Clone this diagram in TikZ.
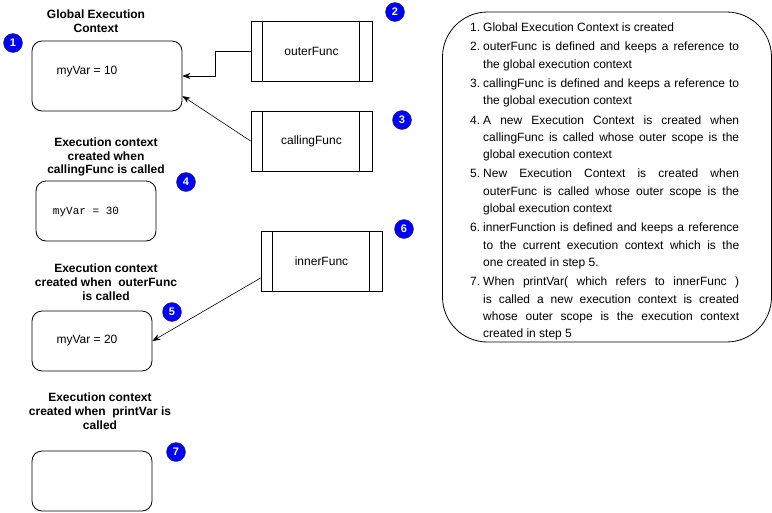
\documentclass[tikz,border=0pt]{standalone}
\usepackage{fontspec}
\setmainfont{Liberation Sans}
\setmonofont{Liberation Mono}
\usepackage{enumitem}
\usepackage{tikz}
\usetikzlibrary{arrows.meta}

\tikzset{
  ctxbox/.style={draw, line width=0.8pt, rounded corners=10pt, minimum width=120pt, minimum height=60pt},
  funcbox/.style={draw, line width=0.8pt, minimum width=121pt, minimum height=60pt, font=\fontsize{12}{14}\selectfont},
  stepnum/.style={circle, draw=black!80, fill={rgb,255:red,0;green,0;blue,255}, text=white, inner sep=0pt, minimum size=19pt, font=\fontsize{11}{12}\selectfont\bfseries},
  title/.style={align=center, inner sep=0.75pt, font=\fontsize{12}{13.8}\selectfont\bfseries},
  vartext/.style={inner sep=0.75pt, font=\fontsize{12}{14}\selectfont},
  arr/.style={-{Stealth[length=8pt,width=6pt]}, line width=0.6pt},
}

\begin{document}
\begin{tikzpicture}[x=1pt,y=-1pt]
    \useasboundingbox (0,0) rectangle (772,512);

    %Global execution context
    \node[stepnum] (n1) at (13,43) {1};
    \node[title] (globaltitle) at (96,21.5) {Global Execution\\Context};
    \node[ctxbox, minimum width=150pt, minimum height=70pt] (global) at (107,76) {};
    \node[vartext] (globalvar) at (87,72) {myVar = 10};

    %outerFunc
    \node[stepnum] (n2) at (395,12) {2};
    \node[funcbox] (outer) at (311.5,51) {outerFunc};
    \draw[line width=0.8pt] ([xshift=12pt]outer.north west) -- ([xshift=12pt]outer.south west);
    \draw[line width=0.8pt] ([xshift=-13pt]outer.north east) -- ([xshift=-13pt]outer.south east);

    %callingFunc
    \node[stepnum] (n3) at (402,120) {3};
    \node[funcbox] (calling) at (311.5,141) {callingFunc};
    \draw[line width=0.8pt] ([xshift=12pt]calling.north west) -- ([xshift=12pt]calling.south west);
    \draw[line width=0.8pt] ([xshift=-13pt]calling.north east) -- ([xshift=-13pt]calling.south east);

    %arrows to global
    \draw[arr] (outer.west) -- ([xshift=-35pt]outer.west) |- (global.east);
    \draw[arr] (calling.west) -- ([yshift=-20pt]global.east);

    %callingFunc context
    \node[title] (calltitle) at (106,157) {Execution context\\created when\\callingFunc is called};
    \node[ctxbox] (callctx) at (96,211) {};
    \node[vartext, font=\fontsize{11}{13}\ttfamily] (callvar) at (86,212) {myVar = 30};
    \node[stepnum] (n4) at (186,182) {4};

    %innerFunc
    \node[stepnum] (n6) at (404,229) {6};
    \node[funcbox] (inner) at (321.5,261) {innerFunc};
    \draw[line width=0.8pt] ([xshift=12pt]inner.north west) -- ([xshift=12pt]inner.south west);
    \draw[line width=0.8pt] ([xshift=-13pt]inner.north east) -- ([xshift=-13pt]inner.south east);

    %outerFunc context
    \node[title] (outertitle) at (106,282) {Execution context\\created when\ \ outerFunc\\is called};
    \node[ctxbox] (outerctx) at (92,341) {};
    \node[vartext] (outervar) at (87,341) {myVar = 20};
    \node[stepnum] (n5) at (172,312) {5};
    \draw[arr] ([yshift=-17pt]inner.west) -- (outerctx.east);

    %printVar context
    \node[title] (printtitle) at (100,411.5) {Execution context\\created when\ \ printVar is\\called};
    \node[ctxbox] (printctx) at (92,481) {};
    \node[stepnum] (n7) at (176,452) {7};

    %steps
    \node[draw, line width=0.8pt, rounded corners=45pt, minimum width=329pt, minimum height=330pt] (stepbox) at (607,177) {};
    \node[anchor=north west, inner sep=0pt, text width=267pt, align=justify, font=\fontsize{12}{17.3}\selectfont] (steps) at (472,14) {%
      \hyphenpenalty=10000 \exhyphenpenalty=10000 \tolerance=10000
      \spaceskip=\fontdimen2\font plus 3\fontdimen2\font minus 0pt
      \begin{enumerate}[leftmargin=11pt, labelsep=3pt, itemsep=2pt, topsep=0pt, parsep=0pt, label=\arabic*.]
        \item Global Execution Context is created
        \item outerFunc is defined and keeps a reference to the global execution context
        \item callingFunc is defined and keeps a reference to the global execution context
        \item A new Execution Context is created when callingFunc is called whose outer scope is the global execution context
        \item New Execution Context is created when outerFunc is called whose outer scope is the global execution context
        \item innerFunction is defined and keeps a reference to the current execution context which is the one created in step 5.
        \item \spaceskip=\fontdimen2\font plus 3\fontdimen2\font minus 0.35\fontdimen2\font
          When printVar( which refers to innerFunc ) is called a new execution context is created\linebreak{} whose outer scope is the execution context created in step 5
      \end{enumerate}};

\end{tikzpicture}
\end{document}
